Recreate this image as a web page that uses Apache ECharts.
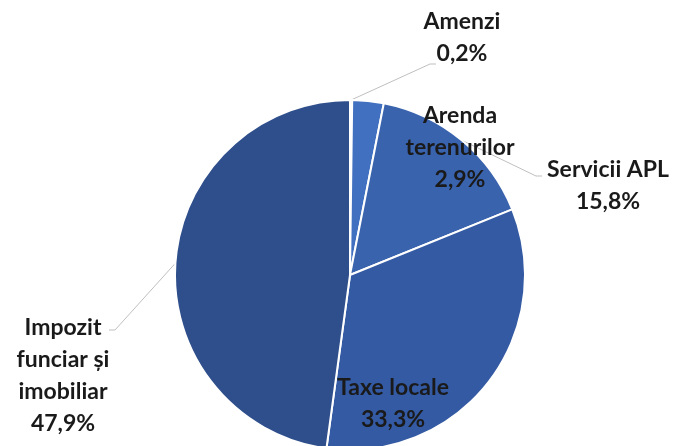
<!DOCTYPE html>
<html><head><meta charset="utf-8">
<script src="https://cdn.jsdelivr.net/npm/echarts@6/dist/echarts.min.js"></script>
<style>html,body{margin:0;padding:0;background:#fff}#c{width:676px;height:446px}</style>
</head><body><div id="c"></div>
<script>
const categories = ['Amenzi', 'Arenda\nterenurilor', 'Servicii APL', 'Taxe locale', 'Impozit\nfunciar și\nimobiliar'];
const values = [0.2, 2.9, 15.8, 33.3, 47.9];
const colors = ['#4a7bd0', '#4270c0', '#3a63ae', '#345aa3', '#2f4f8c'];
// label centre positions and leader-line anchor offsets (relative to label centre)
const labelPos = [[462, 38], [460, 148], [608, 186], [393, 404], [63, 376]];
const anchorOff = [[-26, 26], null, [-66, -10], null, [46, -46]];

const chart = echarts.init(document.getElementById('c'));
chart.setOption({
  animation: false,
  series: [{
    type: 'pie',
    center: [350, 275],
    radius: 175,
    startAngle: 90,
    clockwise: true,
    avoidLabelOverlap: false,
    itemStyle: { borderColor: '#ffffff', borderWidth: 2 },
    label: {
      show: true,
      position: 'outside',
      fontFamily: 'Lato',
      fontWeight: 'bold',
      fontSize: 23,
      lineHeight: 32,
      color: '#1a1a1a',
      align: 'center',
      formatter: p => p.name + '\n' + p.value.toFixed(1).replace('.', ',') + '%'
    },
    labelLine: { show: true, lineStyle: { color: '#bfbfbf', width: 1 }, length: 10, length2: 10 },
    labelLayout: p => {
      const i = p.dataIndex;
      const [x, y] = labelPos[i];
      const out = { x, y, align: 'center', verticalAlign: 'middle' };
      const off = anchorOff[i];
      if (off && p.labelLinePoints) {
        const ax = x + off[0], ay = y + off[1];
        const stub = off[0] < 0 ? -6 : 6;
        out.labelLinePoints = [p.labelLinePoints[0], [ax + stub, ay], [ax, ay]];
      }
      return out;
    },
    data: categories.map((n, i) => ({
      name: n, value: values[i],
      itemStyle: { color: colors[i] },
      labelLine: { show: anchorOff[i] !== null }
    }))
  }]
});
</script></body></html>
